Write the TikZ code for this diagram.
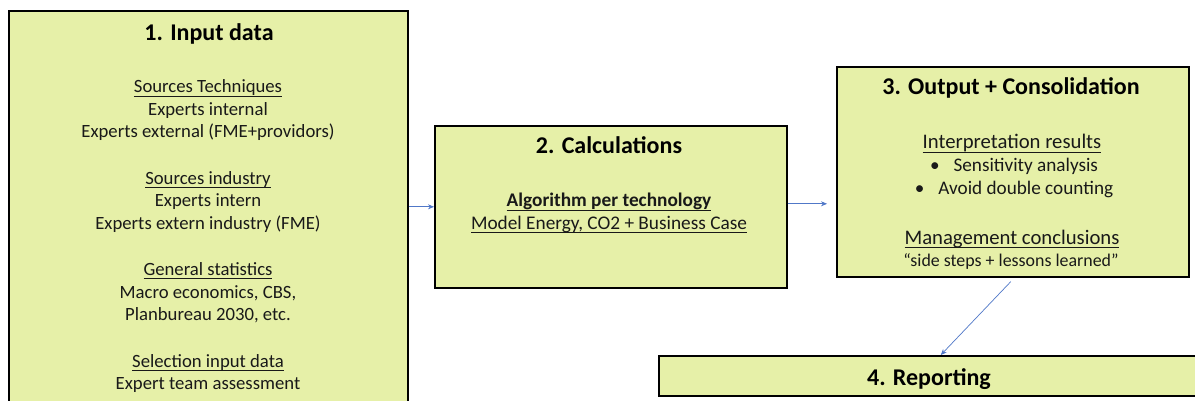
\documentclass[tikz,border=0pt]{standalone}
\usepackage{fontspec}
\setmainfont{Carlito}
\newcommand\ulx[1]{\leavevmode\vtop{\hbox{\raisebox{0pt}[\height][0pt]{#1}}\kern2.6pt\hrule height 1.2pt}}
\usetikzlibrary{arrows.meta}
\definecolor{boxfill}{RGB}{230,240,168}
\definecolor{arrblue}{RGB}{80,120,200}
\definecolor{txt}{RGB}{25,25,25}
\tikzset{
  box/.style={draw=black, line width=1.6pt, fill=boxfill, anchor=north west, inner sep=0pt},
  ttl/.style={font=\fontsize{24}{28}\selectfont\bfseries, text=black, inner sep=0pt, anchor=base},
  body/.style={font=\fontsize{18.7}{22}\selectfont, text=txt, inner sep=0pt, anchor=base},
  bodyb/.style={font=\fontsize{19.3}{22}\selectfont, text=txt, inner sep=0pt, anchor=base},
  head/.style={font=\fontsize{20.7}{24}\selectfont, text=txt, inner sep=0pt, anchor=base},
  small/.style={font=\fontsize{19.2}{22}\selectfont, text=txt, inner sep=0pt, anchor=base},
  quot/.style={font=\fontsize{17.9}{22}\selectfont, text=txt, inner sep=0pt, anchor=base},
  arr/.style={draw=arrblue, line width=0.7pt, -{Stealth[length=6pt,width=5pt]}}
}
\begin{document}
\begin{tikzpicture}[x=1pt,y=-1pt]
\useasboundingbox (0,0) rectangle (1195,401);
\fill[white] (0,0) rectangle (1195,401);
\clip (0,0) rectangle (1195,401);
% boxes
\node[box, minimum width=399pt, minimum height=410pt] (b1) at (8,10) {};
\node[box, minimum width=352pt, minimum height=162pt] (b2) at (434,125) {};
\node[box, minimum width=352pt, minimum height=210pt] (b3) at (836,66) {};
\node[box, minimum width=560pt, minimum height=40pt] (b4) at (658,355) {};
% box 1 text
\node[ttl] (t1) at (209,40.5) {1. Input data};
\node[body] (t1a) at (208,93) {\ulx{Sources Techniques}};
\node[body] (t1b) at (208,115.5) {Experts internal};
\node[body] (t1c) at (208,138) {Experts external (FME+providors)};
\node[body] (t1d) at (208,184.5) {\ulx{Sources industry}};
\node[body] (t1e) at (208,207) {Experts intern};
\node[body] (t1f) at (208,229.5) {Experts extern industry (FME)};
\node[body] (t1g) at (208,275.5) {\ulx{General statistics}};
\node[body] (t1h) at (208,298) {Macro economics, CBS,};
\node[body] (t1i) at (208,320.5) {Planbureau 2030, etc.};
\node[body] (t1j) at (208,367) {\ulx{Selection input data}};
\node[body] (t1k) at (208,389.5) {Expert team assessment};
% box 2 text
\node[ttl] (t2) at (609,153.5) {2. Calculations};
\node[bodyb, font=\fontsize{19.3}{22}\selectfont\bfseries] (t2a) at (609,207) {\ulx{Algorithm per technology}};
\node[bodyb] (t2b) at (609,229.5) {\ulx{Model Energy, CO2 + Business Case}};
% box 3 text
\node[ttl] (t3) at (1011,95) {3. Output + Consolidation};
\node[head] (t3a) at (1012,149) {\ulx{Interpretation results}};
\node[small] (t3b) at (1014,172) {\textbullet\hspace{14pt}Sensitivity analysis};
\node[small] (t3c) at (1014,195) {\textbullet\hspace{14pt}Avoid double counting};
\node[head] (t3d) at (1012,244) {\ulx{Management conclusions}};
\node[quot] (t3e) at (1011,266) {“side steps + lessons learned”};
% box 4 text
\node[ttl] (t4) at (929,385) {4. Reporting};
% connectors
\draw[arr] (b2.west -| b1.east) -- (b2.west);
\draw[arr] ([yshift=3pt]b2.east) -- ([xshift=-9pt,yshift=3pt]b2.east -| b3.west);
\draw[arr] ([xshift=-2pt,yshift=-4pt]b3.south) -- ([xshift=2pt]b4.north);
\end{tikzpicture}
\end{document}
